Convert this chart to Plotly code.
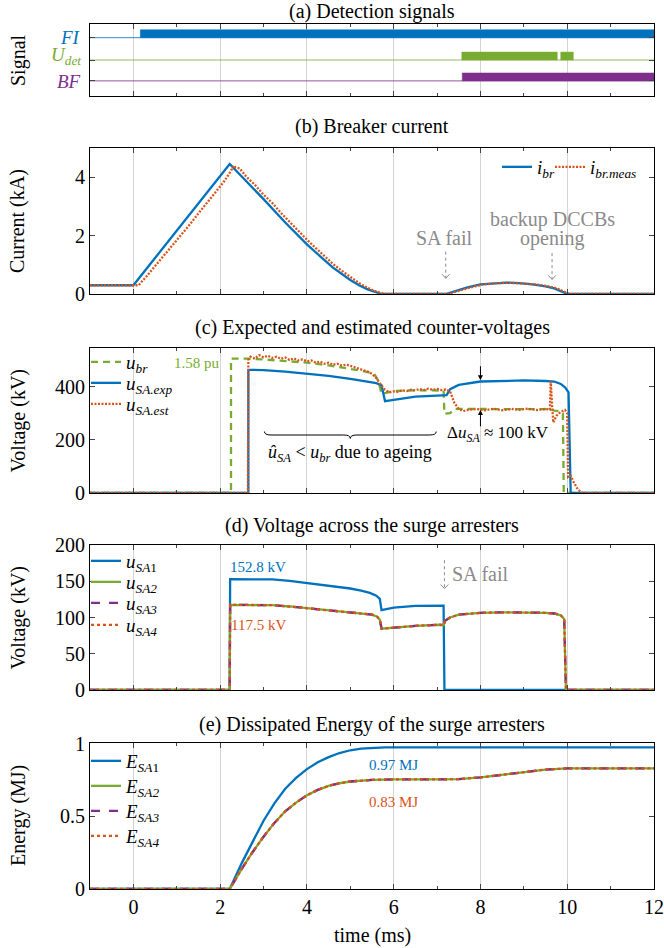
import plotly.graph_objects as go

BLUE = "#0072BD"; ORANGE = "#D95319"; GREEN = "#77AC30"; PURPLE = "#7E2F8E"
GRAY = "#8a8a8a"; GRID = "#d4d4d4"
FONT = "Liberation Serif"

# ---------------- data ----------------
# (a) detection signals: active intervals [start, end] in ms
fi_on = [[0.16, 12.0]]
udet_on = [[7.57, 9.77], [9.85, 10.14]]
bf_on = [[7.58, 12.0]]

# (b) breaker current (kA)
t_ibr = [-1, 0, 2.22, 2.6, 3.0, 3.5, 4.0, 4.3, 4.6, 5.0, 5.2, 5.4, 5.6, 5.72, 7.2, 7.4, 7.7, 8.0, 8.3, 8.6, 8.9, 9.2, 9.5, 9.7, 9.85, 10.0, 12]
i_br = [0.3, 0.3, 4.45, 3.88, 3.25, 2.45, 1.7, 1.3, 0.9, 0.48, 0.3, 0.16, 0.05, 0.0, 0.0, 0.1, 0.23, 0.33, 0.37, 0.39, 0.37, 0.33, 0.26, 0.19, 0.1, 0.0, 0.0]
t_ibr_meas = [-1, 0.12, 0.3, 0.5, 0.7, 0.9, 1.1, 1.3, 1.5, 1.7, 1.9, 2.1, 2.25, 2.31, 2.36, 2.45, 2.6, 2.8, 3.0, 3.2, 3.4, 3.6, 3.8, 4.0, 4.2, 4.4, 4.6, 4.8, 5.0, 5.2, 5.4, 5.6, 5.78,
              7.25, 7.45, 7.75, 8.05, 8.35, 8.65, 8.95, 9.25, 9.55, 9.75, 9.9, 10.05, 12]
i_br_meas = [0.3, 0.3, 0.6, 0.95, 1.3, 1.68, 2.03, 2.38, 2.76, 3.12, 3.48, 3.87, 4.22, 4.4, 4.33, 4.3, 4.02, 3.74, 3.4, 3.12, 2.78, 2.47, 2.16, 1.86, 1.58, 1.3, 1.03, 0.8, 0.58, 0.38, 0.21, 0.08, 0.0,
             0.0, 0.09, 0.22, 0.32, 0.37, 0.385, 0.37, 0.33, 0.27, 0.2, 0.1, 0.0, 0.0]

# (c) expected and estimated counter-voltages (kV)
t_ubr = [-1, 2.25, 2.25, 2.65, 3.0, 3.5, 4.0, 4.5, 5.0, 5.3, 5.55, 5.65, 5.72, 5.85, 6.0, 6.5, 7.0, 7.15, 7.17, 7.3, 7.4, 8.0, 9.0, 9.6, 9.7, 9.85, 9.9, 9.92, 12]
u_br = [0, 0, 505, 505, 502, 497, 490, 480, 466, 458, 448, 420, 372, 378, 384, 386, 387, 385, 298, 300, 316, 316, 316, 315, 310, 307, 300, 0, 0]
t_usa_exp = [-1, 2.65, 2.65, 3.0, 3.5, 4.0, 4.5, 5.0, 5.3, 5.6, 5.72, 5.8, 6.0, 6.5, 7.0, 7.22, 7.3, 7.5, 8.0, 8.5, 9.0, 9.5, 9.7, 9.85, 9.95, 10.03, 10.08, 12]
u_sa_exp = [0, 0, 463, 462, 456, 448, 440, 429, 422, 413, 405, 345, 350, 362, 366, 368, 390, 406, 419, 422, 423, 421, 419, 410, 397, 378, 0, 0]
t_usa_est = [-1, 2.64, 2.65, 2.7, 2.8, 2.9, 3.0, 3.1, 3.2, 3.3, 3.4, 3.5, 3.6, 3.7, 3.8, 3.9, 4.0, 4.1, 4.2, 4.3, 4.4, 4.5, 4.6, 4.7, 4.8, 4.9,
             5.0, 5.1, 5.2, 5.3, 5.4, 5.5, 5.6, 5.7, 5.8, 5.9, 6.0, 6.1, 6.2, 6.3, 6.4, 6.5, 6.6, 6.7, 6.8, 6.9, 7.0, 7.1, 7.2, 7.3,
             7.35, 7.4, 7.5, 7.6, 7.7, 7.9, 8.1, 8.3, 8.5, 8.7, 8.9, 9.1, 9.3, 9.5, 9.6, 9.62, 9.65, 9.68, 9.75, 9.85, 9.95, 10.0,
             10.02, 10.08, 10.15, 10.25, 10.35, 12]
u_sa_est = [0, 0, 500, 512, 505, 518, 510, 516, 508, 512, 505, 509, 500, 506, 498, 502, 495, 498, 490, 494, 486, 490, 482, 486, 479, 482,
            478, 472, 469, 462, 456, 448, 432, 408, 388, 378, 382, 380, 386, 383, 388, 386, 391, 387, 392, 388, 391, 387, 389, 382,
            362, 338, 316, 308, 312, 316, 311, 317, 311, 316, 313, 317, 312, 316, 313, 420, 330, 265, 290, 305, 312, 300,
            60, 65, 40, 12, 0, 0]

# (d) voltage across the surge arresters (kV)
t_sa1 = [-1, 2.22, 2.23, 3.2, 3.6, 4.0, 4.5, 5.0, 5.25, 5.45, 5.6, 5.68, 5.72, 6.0, 6.5, 7.0, 7.15, 7.17, 12]
u_sa1 = [0, 0, 152.8, 152.5, 150.5, 147.7, 144.3, 140.0, 137.2, 134.0, 130.0, 125.6, 110.0, 113.5, 116.0, 117.0, 116.5, 0, 0]
t_sa234 = [-1, 2.22, 2.23, 3.2, 3.6, 4.0, 4.5, 5.0, 5.3, 5.5, 5.62, 5.68, 5.72, 6.14, 6.5, 7.06, 7.15, 7.19, 7.3, 7.5, 8.0, 8.5, 9.0, 9.5, 9.7, 9.85, 9.93, 9.97, 12]
u_sa2 = [0, 0, 117.5, 117.0, 115.2, 113.0, 110.2, 107.0, 105.2, 104.0, 101.0, 97.0, 84.5, 87.0, 88.5, 90.0, 89.5, 96.0, 100.0, 104.0, 106.5, 107.2, 107.2, 106.5, 105.5, 103.0, 98.0, 0, 0]
u_sa3 = list(u_sa2)
u_sa4 = list(u_sa2)

# (e) dissipated energy (MJ)
t_e = [-1, 2.22, 2.5, 2.75, 3.0, 3.25, 3.5, 3.75, 4.0, 4.25, 4.5, 4.75, 5.0, 5.25, 5.5, 5.8, 6.0, 7.0, 7.5, 8.0, 8.5, 9.0, 9.5, 10.0, 10.3, 12]
e_sa1 = [0, 0, 0.18, 0.33, 0.47, 0.59, 0.69, 0.765, 0.825, 0.872, 0.908, 0.936, 0.955, 0.966, 0.972, 0.975, 0.975, 0.975, 0.975, 0.975, 0.975, 0.975, 0.975, 0.975, 0.975, 0.975]
e_sa2 = [0, 0, 0.14, 0.255, 0.36, 0.455, 0.535, 0.595, 0.645, 0.682, 0.71, 0.728, 0.74, 0.747, 0.751, 0.753, 0.754, 0.754, 0.757, 0.768, 0.787, 0.806, 0.822, 0.83, 0.831, 0.831]
e_sa3 = list(e_sa2)
e_sa4 = list(e_sa2)

# ---------------- layout helpers ----------------
W, H = 664, 948
PL, PR = 90, 654
def px_x(p):
    return (p - PL) / (PR - PL)
def px_y(p):
    return 1 - p / H

boxes = [(24, 96), (148, 294), (348, 493), (545, 690), (743, 889)]
titles = ["(a) Detection signals", "(b) Breaker current", "(c) Expected and estimated counter-voltages",
          "(d) Voltage across the surge arresters", "(e) Dissipated Energy of the surge arresters"]
title_y = [12, 127, 327, 525, 724]
ytitles = ["Signal", "Current (kA)", "Voltage (kV)", "Voltage (kV)", "Energy (MJ)"]
FS = 20

fig = go.Figure()
legend_specs = {}
leg_counter = [0]

def tr(x, y, xa, ya, name, color, dash="solid", width=2.3, leg_pos=None):
    lid = None
    if leg_pos is not None:
        leg_counter[0] += 1
        lid = "legend" if leg_counter[0] == 1 else "legend%d" % leg_counter[0]
        legend_specs[lid] = leg_pos
    fig.add_trace(go.Scatter(x=x, y=y, mode="lines", name=name, xaxis=xa, yaxis=ya,
                             line=dict(color=color, dash=dash, width=width),
                             showlegend=lid is not None, legend=lid))

# (a)
levels = {"FI": 0.81, "Udet": 0.5, "BF": 0.21}
label_levels = {"FI": 0.81, "Udet": 0.55, "BF": 0.2}
bar_h = 0.11
for key, on, col in [("FI", fi_on, BLUE), ("Udet", udet_on, GREEN), ("BF", bf_on, PURPLE)]:
    b = levels[key]
    fig.add_trace(go.Scatter(x=[-1, 12], y=[b, b], mode="lines", xaxis="x", yaxis="y",
                             line=dict(color=col, width=1), opacity=0.8, showlegend=False))
    for s, e in on:
        fig.add_trace(go.Scatter(x=[s, e, e, s, s], y=[b, b, b + bar_h, b + bar_h, b], mode="lines",
                                 fill="toself", fillcolor=col, line=dict(color=col, width=0.5),
                                 xaxis="x", yaxis="y", showlegend=False))

# legend anchor positions (px): left edge x, centre y
LX = 86
# (b)
tr(t_ibr, i_br, "x2", "y2", "<i>i</i><sub><i>br</i></sub>", BLUE, leg_pos=(497, 167))
tr(t_ibr_meas, i_br_meas, "x2", "y2", "<i>i</i><sub><i>br.meas</i></sub>", ORANGE, dash="2px,1.5px", width=2.3, leg_pos=(550, 167))

# (c)
tr(t_ubr, u_br, "x3", "y3", "<i>u</i><sub><i>br</i></sub>", GREEN, dash="7px,5px", leg_pos=(LX, 362))
tr(t_usa_exp, u_sa_exp, "x3", "y3", "<i>u</i><sub><i>SA.exp</i></sub>", BLUE, leg_pos=(LX, 383))
tr(t_usa_est, u_sa_est, "x3", "y3", "<i>u</i><sub><i>SA.est</i></sub>", ORANGE, dash="2px,1.5px", leg_pos=(LX, 404))

# (d)
tr(t_sa1, u_sa1, "x4", "y4", "<i>u</i><sub><i>SA</i>1</sub>", BLUE, leg_pos=(LX, 561))
tr(t_sa234, u_sa2, "x4", "y4", "<i>u</i><sub><i>SA2</i></sub>", GREEN, leg_pos=(LX, 582))
tr(t_sa234, u_sa3, "x4", "y4", "<i>u</i><sub><i>SA3</i></sub>", PURPLE, dash="dash", leg_pos=(LX, 603))
tr(t_sa234, u_sa4, "x4", "y4", "<i>u</i><sub><i>SA4</i></sub>", ORANGE, dash="dot", leg_pos=(LX, 625))

# (e)
tr(t_e, e_sa1, "x5", "y5", "<i>E</i><sub><i>SA</i>1</sub>", BLUE, leg_pos=(LX, 761))
tr(t_e, e_sa2, "x5", "y5", "<i>E</i><sub><i>SA2</i></sub>", GREEN, leg_pos=(LX, 786))
tr(t_e, e_sa3, "x5", "y5", "<i>E</i><sub><i>SA3</i></sub>", PURPLE, dash="dash", leg_pos=(LX, 811))
tr(t_e, e_sa4, "x5", "y5", "<i>E</i><sub><i>SA4</i></sub>", ORANGE, dash="dot", leg_pos=(LX, 836))

layout = dict(width=W, height=H, margin=dict(l=PL, r=W - PR, t=0, b=0),
              paper_bgcolor="white", plot_bgcolor="white",
              font=dict(family=FONT, size=FS, color="black"))

yranges = [[0, 1], [0, 5], [0, 545], [0, 200], [0, 1.005]]
yticks = [[0.21, 0.5, 0.81], [0, 2, 4], [0, 200, 400], [0, 50, 100, 150, 200], [0, 0.5, 1]]
yticktext = [None, ["0", "2", "4"], ["0", "200", "400"], ["0", "50", "100", "150", "200"], ["0", "0.5", "1"]]

for i in range(5):
    sfx = "" if i == 0 else str(i + 1)
    top, bot = boxes[i]
    layout["xaxis" + sfx] = dict(domain=[0, 1], range=[-1, 12], anchor="y" + sfx,
                                 tickmode="array", tickvals=[0, 2, 4, 6, 8, 10, 12],
                                 showgrid=True, gridcolor=GRID, gridwidth=1,
                                 ticks="inside", ticklen=5, tickcolor="#444", mirror="ticks",
                                 showline=True, linecolor="black", linewidth=1.2,
                                 minor=dict(tickvals=[-1, 1, 3, 5, 7, 9, 11], ticks="inside", ticklen=3, tickcolor="#444", showgrid=False),
                                 showticklabels=(i == 4), zeroline=False, automargin=False,
                                 ticklabeloverflow="allow", tickfont=dict(size=FS))
    if i > 0:
        layout["xaxis" + sfx]["matches"] = "x"
    ya = dict(domain=[px_y(bot), px_y(top)], range=yranges[i], anchor="x" + sfx,
              tickmode="array", tickvals=yticks[i],
              showgrid=False, zeroline=False, ticks="inside", ticklen=5, tickcolor="#444", mirror="ticks",
              showline=True, linecolor="black", linewidth=1.2, automargin=False,
              ticklabeloverflow="allow", tickfont=dict(size=FS))
    if yticktext[i] is None:
        ya["showticklabels"] = False
    else:
        ya["ticktext"] = yticktext[i]
    layout["yaxis" + sfx] = ya

for lid, (lx, ly) in legend_specs.items():
    layout[lid] = dict(bgcolor="rgba(0,0,0,0)", borderwidth=0, font=dict(family=FONT, size=19),
                       xref="paper", yref="paper", x=px_x(lx), xanchor="left", y=px_y(ly), yanchor="middle",
                       itemwidth=30)

fig.update_layout(**layout)

ann = []
shapes = []
for i in range(5):
    ann.append(dict(text=titles[i], x=0.5, y=px_y(title_y[i]), xref="paper", yref="paper",
                    showarrow=False, font=dict(size=FS), xanchor="center", yanchor="middle"))
    ann.append(dict(text=ytitles[i], x=px_x(18), y=px_y((boxes[i][0] + boxes[i][1]) / 2), xref="paper", yref="paper",
                    showarrow=False, textangle=-90, font=dict(size=FS), xanchor="center", yanchor="middle"))

# (a) signal labels
for key, txt, col in [("FI", "<i>FI</i>", BLUE), ("Udet", "<i>U</i><sub><i>det</i></sub>", GREEN), ("BF", "<i>BF</i>", PURPLE)]:
    ann.append(dict(text=txt, x=px_x(83), xref="paper", y=label_levels[key], yref="y", showarrow=False,
                    xanchor="right", yanchor="middle", font=dict(size=19, color=col)))

def dotted_arrow(xr, yr, x, y0, y1, dx, dy):
    shapes.append(dict(type="line", xref=xr, yref=yr, x0=x, x1=x, y0=y0, y1=y1,
                       line=dict(color=GRAY, width=1, dash="dot")))
    shapes.append(dict(type="path", xref=xr, yref=yr,
                       path=f"M {x - dx},{y1 + dy} L {x},{y1} L {x + dx},{y1 + dy}",
                       line=dict(color=GRAY, width=1)))

# (b) annotations
ann.append(dict(text="SA fail", x=7.17, y=1.92, xref="x2", yref="y2", showarrow=False, font=dict(size=20, color=GRAY)))
ann.append(dict(text="backup DCCBs", x=9.65, y=2.56, xref="x2", yref="y2", showarrow=False, font=dict(size=20, color=GRAY)))
ann.append(dict(text="opening", x=9.65, y=1.9, xref="x2", yref="y2", showarrow=False, font=dict(size=20, color=GRAY)))
dotted_arrow("x2", "y2", 7.2, 1.45, 0.54, 0.09, 0.14)
dotted_arrow("x2", "y2", 9.65, 1.4, 0.5, 0.09, 0.14)

# (c) annotations
ann.append(dict(text="1.58 pu", x=2.05, y=487, xref="x3", yref="y3", showarrow=False, xanchor="right",
                font=dict(size=15, color=GREEN)))
ann.append(dict(text="<i>û</i><sub><i>SA</i></sub> &lt; <i>u</i><sub><i>br</i></sub> due to ageing", x=5.0, y=150,
                xref="x3", yref="y3", showarrow=False, font=dict(size=18)))
ann.append(dict(text="Δ<i>u</i><sub><i>SA</i></sub> ≈ 100 kV", x=8.4, y=222, xref="x3", yref="y3", showarrow=False,
                font=dict(size=17)))
ann.append(dict(text="", x=8.0, y=424, ax=8.0, ay=482, xref="x3", yref="y3", axref="x3", ayref="y3",
                showarrow=True, arrowhead=2, arrowsize=1, arrowwidth=1, arrowcolor="black"))
ann.append(dict(text="", x=8.0, y=312, ax=8.0, ay=245, xref="x3", yref="y3", axref="x3", ayref="y3",
                showarrow=True, arrowhead=2, arrowsize=1, arrowwidth=1, arrowcolor="black"))
bx0, bx1, by, bh = 3.02, 6.98, 218, 13
bm = (bx0 + bx1) / 2
shapes.append(dict(type="path", xref="x3", yref="y3", line=dict(color="black", width=1),
                   path=(f"M {bx0},{by + bh} Q {bx0},{by} {bx0 + 0.15},{by} L {bm - 0.15},{by} "
                         f"Q {bm},{by} {bm},{by - bh} Q {bm},{by} {bm + 0.15},{by} "
                         f"L {bx1 - 0.15},{by} Q {bx1},{by} {bx1},{by + bh}")))

# (d) annotations
ann.append(dict(text="152.8 kV", x=2.88, y=169, xref="x4", yref="y4", showarrow=False, font=dict(size=15, color=BLUE)))
ann.append(dict(text="117.5 kV", x=2.88, y=90, xref="x4", yref="y4", showarrow=False, font=dict(size=15, color=ORANGE)))
ann.append(dict(text="SA fail", x=7.3, y=160, xref="x4", yref="y4", showarrow=False, xanchor="left",
                font=dict(size=20, color=GRAY)))
dotted_arrow("x4", "y4", 7.17, 179, 140, 0.09, 5.5)

# (e) annotations
ann.append(dict(text="0.97 MJ", x=6.0, y=0.856, xref="x5", yref="y5", showarrow=False, font=dict(size=15, color=BLUE)))
ann.append(dict(text="0.83 MJ", x=6.0, y=0.6, xref="x5", yref="y5", showarrow=False, font=dict(size=15, color=ORANGE)))

# x axis title
ann.append(dict(text="time (ms)", x=0.5, y=px_y(935), xref="paper", yref="paper", showarrow=False,
                font=dict(size=FS), yanchor="middle"))

fig.update_layout(annotations=ann, shapes=shapes)
fig.write_html("out.html")
